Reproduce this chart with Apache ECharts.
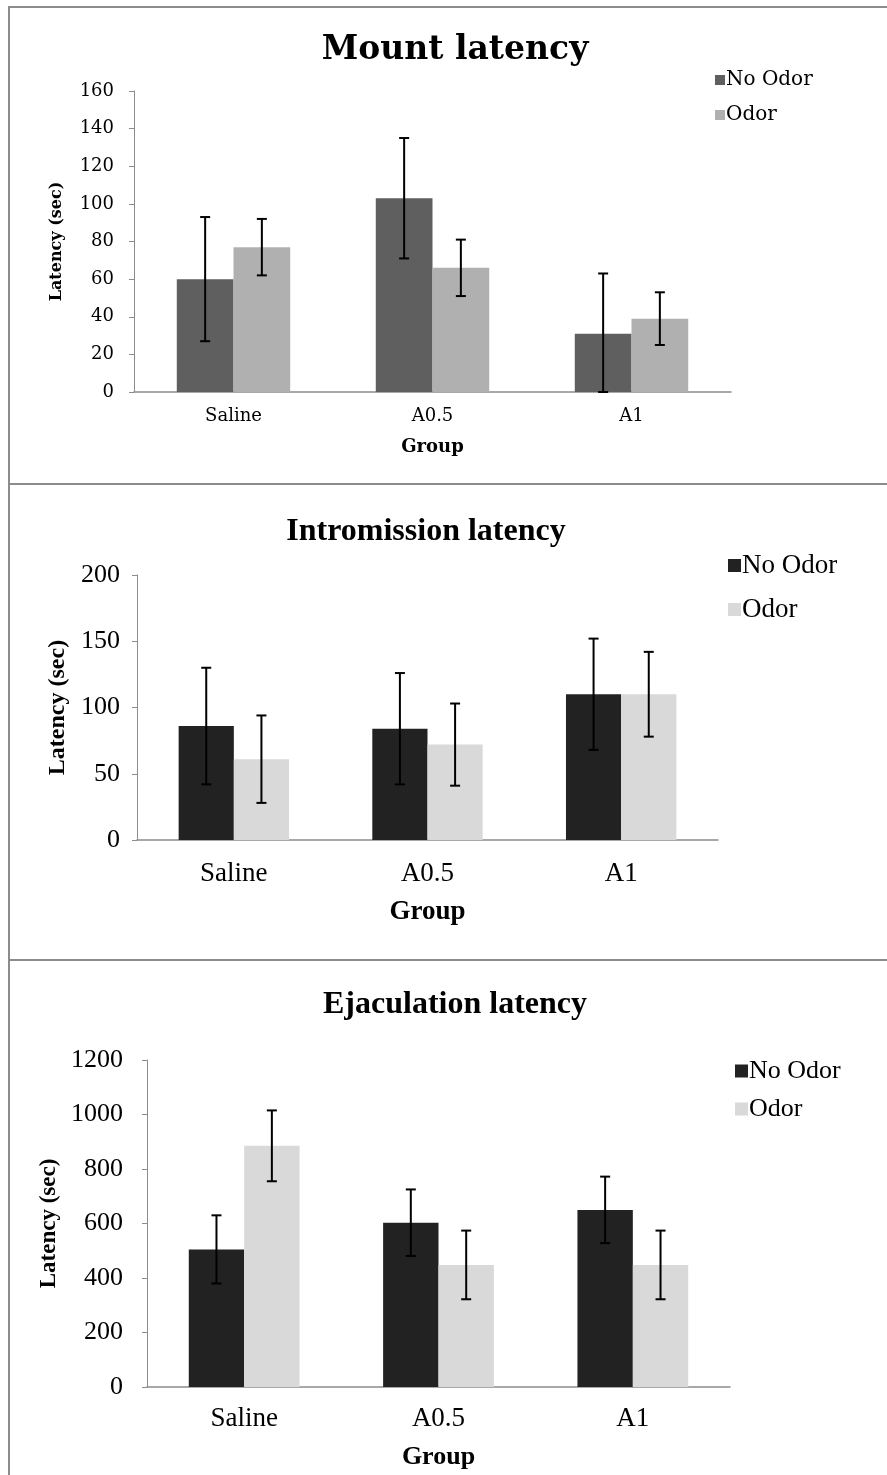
<!DOCTYPE html>
<html>
<head>
<meta charset="utf-8">
<script src="https://cdn.jsdelivr.net/npm/echarts@6/dist/echarts.min.js"></script>
<style>
  html, body { margin: 0; padding: 0; background: #fff; }
  .panel {
    position: absolute;
    border-left: 2px solid #8c8c8c;
    border-top: 2px solid #8c8c8c;
    box-sizing: border-box;
  }
</style>
</head>
<body>
<div class="panel" id="p1" style="left:8px;top:6px;width:879px;height:478px;"></div>
<div class="panel" id="p2" style="left:8px;top:483px;width:879px;height:478px;"></div>
<div class="panel" id="p3" style="left:8px;top:959px;width:879px;height:516px;"></div>
<script>
// 数据
const groups = ["Saline", "A0.5", "A1"];
const seriesNames = ["No Odor", "Odor"];

const mountNoOdor = [60, 103, 31];
const mountOdor = [77, 66, 39];
const mountNoOdorErr = [33, 32, 32];
const mountOdorErr = [15, 15, 14];

const introNoOdor = [86, 84, 110];
const introOdor = [61, 72, 110];
const introNoOdorErr = [44, 42, 42];
const introOdorErr = [33, 31, 32];

const ejacNoOdor = [505, 603, 650];
const ejacOdor = [885, 448, 448];
const ejacNoOdorErr = [125, 122, 122];
const ejacOdorErr = [130, 126, 126];

const gapPct = 0.43;

// 误差线
const errorSeries = (values, errs, idx) => ({
  type: "custom",
  silent: true,
  z: 10,
  data: values.map((v, i) => [i, v - errs[i], v + errs[i]]),
  renderItem: (params, api) => {
    const band = api.size([1, 0])[0];
    const barW = band * (1 - gapPct) / 2;
    const c = api.coord([api.value(0), 0]);
    const x = c[0] - barW + barW * (idx + 0.5);
    const lo = api.coord([api.value(0), Math.max(0, api.value(1))])[1];
    const hi = api.coord([api.value(0), api.value(2)])[1];
    const cap = 5;
    const style = { stroke: "#000", lineWidth: 2 };
    return {
      type: "group",
      children: [
        { type: "line", shape: { x1: x, y1: lo, x2: x, y2: hi }, style },
        { type: "line", shape: { x1: x - cap, y1: hi, x2: x + cap, y2: hi }, style },
        { type: "line", shape: { x1: x - cap, y1: lo, x2: x + cap, y2: lo }, style },
      ],
    };
  },
});

const initPanel = (el, cfg) => {
  const chart = echarts.init(document.getElementById(el));
  const f = cfg.fontFamily;
  const option = {
    animation: false,
    title: {
      text: cfg.title,
      left: cfg.titleLeft,
      textAlign: "center",
      top: cfg.titleTop,
      textStyle: { fontFamily: f, fontWeight: "bold", fontSize: cfg.titleSize, color: "#000" },
    },
    legend: {
      orient: "vertical",
      left: cfg.legendLeft,
      top: cfg.legendTop,
      itemWidth: cfg.legendBox,
      itemHeight: cfg.legendBox,
      itemGap: cfg.legendGap,
      icon: "rect",
      textStyle: { fontFamily: f, fontSize: cfg.legendSize, color: "#000", padding: [0, 0, 0, -4] },
      data: seriesNames,
    },
    grid: cfg.grid,
    xAxis: {
      type: "category",
      data: groups,
      axisLine: { lineStyle: { color: "#8c8c8c", width: 1.5 } },
      axisTick: { show: false },
      axisLabel: { fontFamily: f, fontSize: cfg.catSize, color: "#000", margin: cfg.xLabelMargin },
      name: "Group",
      nameLocation: "middle",
      nameGap: cfg.xNameGap,
      nameTextStyle: { fontFamily: f, fontWeight: "bold", fontSize: cfg.groupSize, color: "#000" },
    },
    yAxis: {
      type: "value",
      min: 0,
      max: cfg.max,
      interval: cfg.interval,
      axisLine: { show: true, lineStyle: { color: "#8c8c8c", width: 1 } },
      axisTick: { show: true, length: 5, lineStyle: { color: "#8c8c8c" } },
      splitLine: { show: false },
      axisLabel: {
        fontFamily: f, fontSize: cfg.tickSize, color: "#000", margin: cfg.yLabelMargin,
        formatter: (v) => String(v),
      },
      name: "Latency (sec)",
      nameLocation: "middle",
      nameGap: cfg.yNameGap,
      nameTextStyle: { fontFamily: f, fontWeight: "bold", fontSize: cfg.yNameSize, color: "#000" },
    },
    series: [
      {
        name: seriesNames[0],
        type: "bar",
        data: cfg.noOdor,
        barGap: "0%",
        barCategoryGap: gapPct * 100 + "%",
        itemStyle: { color: cfg.colors[0] },
      },
      {
        name: seriesNames[1],
        type: "bar",
        data: cfg.odor,
        itemStyle: { color: cfg.colors[1] },
      },
      errorSeries(cfg.noOdor, cfg.noOdorErr, 0),
      errorSeries(cfg.odor, cfg.odorErr, 1),
    ],
  };
  chart.setOption(option, true);
};

initPanel("p1", {
  fontFamily: "DejaVu Serif",
  title: "Mount latency", titleLeft: 440, titleTop: 21, titleSize: 33,
  legendLeft: 700, legendTop: 57, legendBox: 10, legendGap: 15, legendSize: 20,
  grid: { left: 124, top: 83, width: 597, height: 301 },
  tickSize: 18, catSize: 18, groupSize: 18, yNameSize: 16,
  max: 160, interval: 20,
  yLabelMargin: 20, xLabelMargin: 15, xNameGap: 46, yNameGap: 69,
  noOdor: mountNoOdor, odor: mountOdor, noOdorErr: mountNoOdorErr, odorErr: mountOdorErr,
  colors: ["#5f5f5f", "#b0b0b0"],
});

initPanel("p2", {
  fontFamily: "Liberation Serif",
  title: "Intromission latency", titleLeft: 411, titleTop: 26, titleSize: 32,
  legendLeft: 713, legendTop: 62, legendBox: 13, legendGap: 17, legendSize: 27,
  grid: { left: 127, top: 90, width: 581, height: 265 },
  tickSize: 26, catSize: 27, groupSize: 27, yNameSize: 24,
  max: 200, interval: 50,
  yLabelMargin: 17, xLabelMargin: 20, xNameGap: 59, yNameGap: 64,
  noOdor: introNoOdor, odor: introOdor, noOdorErr: introNoOdorErr, odorErr: introOdorErr,
  colors: ["#222222", "#d9d9d9"],
});

initPanel("p3", {
  fontFamily: "Liberation Serif",
  title: "Ejaculation latency", titleLeft: 440, titleTop: 23, titleSize: 32,
  legendLeft: 720, legendTop: 92, legendBox: 13, legendGap: 12, legendSize: 26,
  grid: { left: 137, top: 99, width: 583, height: 327 },
  tickSize: 26, catSize: 27, groupSize: 26, yNameSize: 23,
  max: 1200, interval: 200,
  yLabelMargin: 24, xLabelMargin: 18, xNameGap: 57, yNameGap: 82,
  noOdor: ejacNoOdor, odor: ejacOdor, noOdorErr: ejacNoOdorErr, odorErr: ejacOdorErr,
  colors: ["#222222", "#d9d9d9"],
});
</script>
</body>
</html>
